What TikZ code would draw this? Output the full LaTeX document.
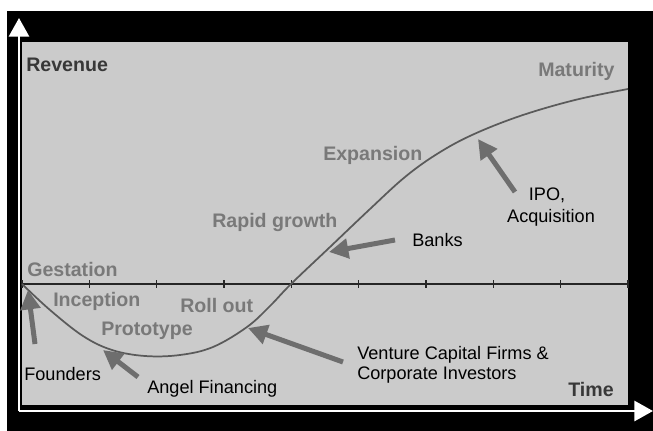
\documentclass[tikz,border=0pt]{standalone}
\usepackage{fontspec}
\setmainfont{Liberation Sans}
\usetikzlibrary{arrows.meta,positioning}
\definecolor{panelgray}{HTML}{CBCBCB}
\definecolor{stagegray}{HTML}{797979}
\definecolor{labeldark}{HTML}{383838}
\definecolor{arrowgray}{HTML}{6E6E6E}
\definecolor{curvegray}{HTML}{5A5A5A}
\tikzset{% looks of the lifecycle chart
        stage/.style={font=\fontsize{14.7}{17}\selectfont\bfseries, text=stagegray, inner sep=0pt, anchor=base west},
        axistext/.style={stage, text=labeldark},
        funder/.style={font=\fontsize{13.6}{16}\selectfont, text=black, inner sep=0pt, anchor=base west},
        fundarrow/.style={draw=arrowgray, line width=3.75pt, -{Triangle[length=14.5pt,width=14.5pt]}},
        axisarrow/.style={draw=white, line width=2.2pt, -{Triangle[length=14pt,width=15pt]}}
        }

\begin{document}
\begin{tikzpicture}[x=0.75pt, y=-0.75pt]
\useasboundingbox (0,0) rectangle (653,431);
\fill[white] (0,0) rectangle (653,431);
\fill[black] (7,11) rectangle (653,431);
\fill[panelgray] (22,42) rectangle (628,405);

% time axis with ticks
\draw[black!85, line width=0.9pt] (22,284) -- (628,284);
\foreach \i in {0,...,9}
  \draw[black!85, line width=0.9pt] (22+\i*67.33,280) -- (22+\i*67.33,288);

% revenue curve
\draw[curvegray, line width=1.3pt] plot[smooth, tension=0.6] coordinates {
  (22,284) (50,310) (83,336) (112,350) (145,356) (180,355) (213,347)
  (247,327) (270,306) (291,284) (330,247) (370,209) (405,177)
  (437,154) (472,135) (520,116) (575,100) (628,89)};

% white axes
\coordinate (origin) at (19,411);
\coordinate (revTop) at (19,18);
\coordinate (timeEnd) at (653,411);
\draw[axisarrow] (origin) -- (revTop);
\draw[axisarrow] (origin) -- (timeEnd);

% funding arrows
\coordinate (foundTail) at (35,344);
\coordinate (foundTip) at (28,290);
\coordinate (angelTail) at (138,377);
\coordinate (angelTip) at (103,350);
\coordinate (vcTail) at (343,362);
\coordinate (vcTip) at (248,328);
\coordinate (bankTail) at (395,240);
\coordinate (bankTip) at (329,252);
\coordinate (ipoTail) at (515,192);
\coordinate (ipoTip) at (478,139);
\draw[fundarrow] (foundTail) -- (foundTip);
\draw[fundarrow] (angelTail) -- (angelTip);
\draw[fundarrow] (vcTail) -- (vcTip);
\draw[fundarrow] (bankTail) -- (bankTip);
\draw[fundarrow] (ipoTail) -- (ipoTip);

% stage names
\node[axistext] (revenue) at (26,72) {Revenue};
\node[axistext] (time) at (568,396) {Time};
\node[stage] (maturity) at (538,77) {Maturity};
\node[stage] (expansion) at (323,161) {Expansion};
\node[stage] (rapid) at (212,228) {Rapid growth};
\node[stage] (gestation) at (27,276) {Gestation};
\node[stage] (inception) at (53,306) {Inception};
\node[stage] (rollout) at (180,312) {Roll out};
\node[stage] (prototype) at (101,335) {Prototype};

% sources of money
\node[funder] (founders) at (24,380) {Founders};
\node[funder] (angel) at (147,393) {Angel Financing};
\node[funder] (vc) at (357,359) {Venture Capital Firms \&};
\node[funder] (corporate) at (357,379) {Corporate Investors};
\node[funder] (banks) at (412,246) {Banks};
\node[funder, anchor=base] (ipo) at (547,200) {IPO,};
\node[funder, anchor=base] (acquisition) at (551,222) {Acquisition};
\end{tikzpicture}
\end{document}
